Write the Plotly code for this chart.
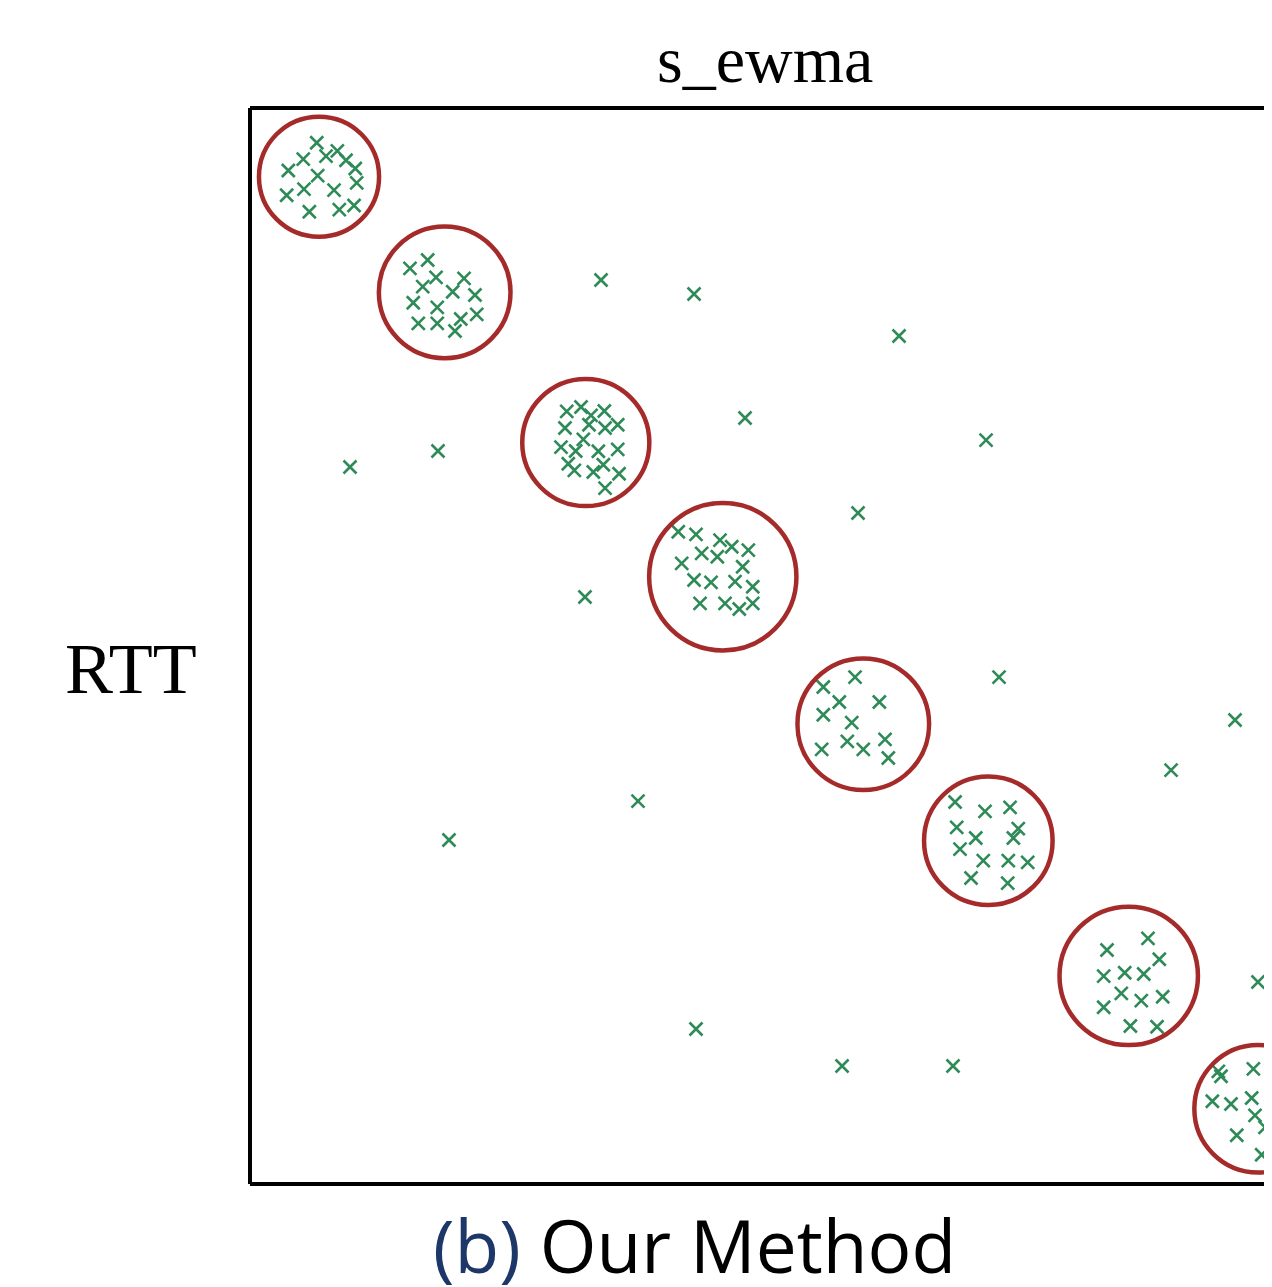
import plotly.graph_objects as go

# ---- data (arbitrary units) ----
c1_x = [6.48, 5.17, 7.38, 8.48, 9.32, 3.72, 10.22, 6.57, 10.36, 5.24, 8.16, 3.56, 10.10, 5.76, 8.67]
c1_y = [101.1, 99.5, 99.8, 100.3, 99.4, 98.4, 98.6, 97.9, 97.2, 96.6, 96.5, 96.0, 95.0, 94.4, 94.6]

c2_x = [17.25, 15.53, 18.06, 20.78, 16.77, 19.68, 21.84, 15.85, 18.18, 22.01, 20.46, 16.34, 18.18, 19.90]
c2_y = [89.71, 88.90, 88.03, 87.93, 87.12, 86.63, 86.31, 85.56, 85.12, 84.44, 83.98, 83.56, 83.56, 82.82]

c3_x = [30.75, 32.14, 33.11, 34.40, 30.58, 32.91, 34.47, 35.70, 32.36, 30.19, 31.62, 33.82, 35.70,
        30.90, 34.30, 31.49, 33.33, 35.83, 34.47]
c3_y = [75.02, 75.44, 74.63, 75.05, 73.40, 73.72, 73.40, 73.72, 72.30, 71.55, 71.17, 71.14, 71.33,
        69.93, 69.83, 69.29, 69.13, 68.96, 67.57]

c4_x = [41.58, 43.30, 45.63, 46.77, 48.38, 43.85, 45.37, 41.91, 47.83, 43.11, 44.76, 47.09, 48.81,
        43.69, 46.12, 47.50, 48.81]
c4_y = [63.33, 63.08, 62.52, 61.87, 61.55, 61.23, 60.90, 60.26, 59.93, 58.64, 58.42, 58.48, 57.99,
        56.38, 56.38, 55.83, 56.38]

c5_x = [58.74, 55.66, 57.21, 61.10, 55.66, 58.42, 57.99, 61.65, 55.50, 59.54, 61.97]
c5_y = [49.22, 48.25, 46.80, 46.80, 45.56, 44.79, 42.98, 43.17, 42.20, 42.20, 41.36]

c6_x = [68.45, 71.36, 73.79, 68.61, 74.59, 70.46, 74.11, 68.93, 71.19, 73.62, 75.50, 70.00, 73.56]
c6_y = [37.09, 36.18, 36.57, 34.63, 34.50, 33.59, 33.59, 32.52, 31.39, 31.39, 31.23, 29.71, 29.22]

c7_x = [87.18, 83.20, 88.28, 82.88, 84.92, 86.77, 84.59, 88.61, 86.53, 82.88, 85.47, 88.06]
c7_y = [23.85, 22.72, 21.82, 20.19, 20.51, 20.39, 18.51, 18.18, 17.80, 17.16, 15.34, 15.27]

c8_x = [94.01, 94.27, 97.41, 99.13, 93.43, 95.24, 97.25, 99.13, 97.57, 98.54, 95.80, 98.22]
c8_y = [10.94, 10.46, 11.17, 11.10, 8.03, 7.77, 8.35, 7.57, 6.67, 5.50, 4.73, 2.84]

outlier_x = [34.08, 43.11, 63.01, 48.06, 71.46, 9.71, 18.25, 59.03, 32.52, 72.72, 95.63, 89.42,
             37.67, 19.32, 97.86, 43.30, 57.48, 68.25]
outlier_y = [87.77, 86.41, 82.33, 74.37, 72.23, 69.61, 71.17, 65.15, 56.99, 49.22, 45.05, 40.19,
             37.18, 33.40, 19.61, 15.05, 11.46, 11.46]

circle_cx = [6.70, 18.90, 32.60, 45.90, 59.54, 71.68, 85.31, 97.87]
circle_cy = [97.8, 86.57, 71.99, 58.96, 44.64, 33.33, 20.21, 7.30]
circle_r = [5.83, 6.39, 6.17, 7.15, 6.39, 6.24, 6.72, 6.19]

x_range = [0, 99.22]
y_range = [0, 104.47]

title_text = "s_ewma"
ylabel_text = "RTT"
caption_label = "(b)"
caption_text = "Our Method"

# ---- figure ----
all_x = c1_x + c2_x + c3_x + c4_x + c5_x + c6_x + c7_x + c8_x + outlier_x
all_y = c1_y + c2_y + c3_y + c4_y + c5_y + c6_y + c7_y + c8_y + outlier_y

GREEN = "#2e8b57"
RED = "#a52a2a"

fig = go.Figure()
fig.add_trace(go.Scatter(
    x=all_x, y=all_y, mode="markers",
    marker=dict(symbol="x-thin", size=13, color=GREEN, line=dict(width=2.6, color=GREEN)),
    hoverinfo="skip", showlegend=False,
))

shapes = []
for cx, cy, r in zip(circle_cx, circle_cy, circle_r):
    shapes.append(dict(type="circle", xref="x", yref="y",
                       x0=cx - r, x1=cx + r, y0=cy - r, y1=cy + r,
                       line=dict(color=RED, width=4.5), layer="above"))
# frame (left, top, bottom); right side runs off the page
frame = dict(color="black", width=4)
shapes.append(dict(type="line", xref="paper", yref="paper", x0=0, x1=0, y0=0, y1=1, line=frame))
shapes.append(dict(type="line", xref="paper", yref="paper", x0=0, x1=1.05, y0=1, y1=1, line=frame))
shapes.append(dict(type="line", xref="paper", yref="paper", x0=0, x1=1.05, y0=0, y1=0, line=frame))

annotations = [
    dict(text=title_text, xref="paper", yref="paper", x=0.504, y=1.0455,
         xanchor="center", yanchor="middle", showarrow=False,
         font=dict(family="Liberation Serif", size=66, color="black")),
    dict(text=ylabel_text, xref="paper", yref="paper", x=-0.1164, y=0.4786,
         xanchor="center", yanchor="middle", showarrow=False,
         font=dict(family="Liberation Serif", size=72, color="black")),
    dict(text=f'<span style="color:#1c3768">{caption_label}</span> {caption_text}',
         xref="paper", yref="paper", x=0.4354, y=-0.0565,
         xanchor="center", yanchor="middle", showarrow=False,
         font=dict(family="Open Sans", size=73, color="black")),
]

# page body has an 8px margin, so the figure is sized to end at the window edge
fig.update_layout(
    width=1264, height=1279,
    margin=dict(l=242, r=0, t=100, b=103, pad=0),
    plot_bgcolor="white", paper_bgcolor="white",
    xaxis=dict(range=x_range, visible=False, fixedrange=True),
    yaxis=dict(range=y_range, visible=False, fixedrange=True),
    shapes=shapes, annotations=annotations, showlegend=False,
)

fig.write_html("out.html")
